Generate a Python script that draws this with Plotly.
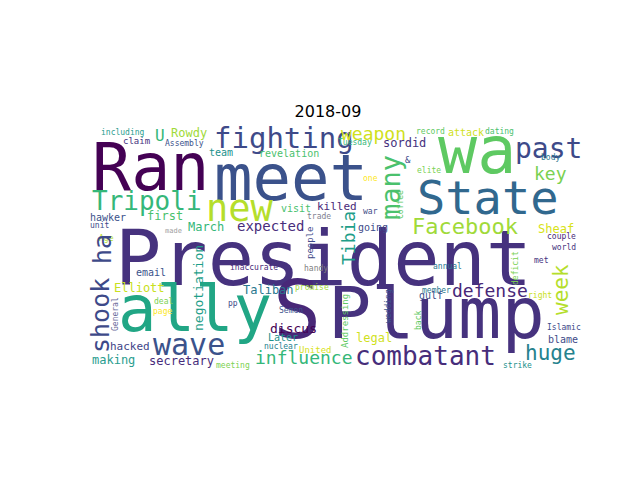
import plotly.graph_objects as go

# word cloud for 2018-09: word, centre x/y (image px), font size, colour, angle
words = ["President", "Ran", "meet", "wa", "past", "fighting", "State", "U", "Rowdy", "including",
         "claim", "Assembly", "team", "revelation", "weapon", "record", "attack", "dating", "Tuesday", "sordid",
         "body", "&", "elite", "one", "many", "key", "Tripoli", "new", "visit", "killed",
         "Tibia", "going", "war", "Coffee", "trade", "hawker", "first", "unit", "March", "expected",
         "made", "Age", "Facebook", "Sheaf", "couple", "world", "met", "deficit", "annual", "disgraced",
         "week", "reaction", "defense", "member", "gulf", "right", "back", "Islamic", "blame", "huge",
         "strike", "combatant", "Plump", "S", "ally", "wave", "influence", "shook", "ha", "email",
         "inaccurate", "handy", "people", "Elliott", "negotiation", "Taliban", "promise", "deal", "page", "General",
         "pp", "Semen", "Addressing", "wedding", "legal", "discus", "Later", "hacked", "nuclear", "United",
         "making", "secretary", "meeting"]
xs = [315, 142, 283, 469, 540, 276, 479, 152, 181, 115,
      128, 176, 213, 281, 365, 422, 458, 491, 347, 396,
      542, 400, 421, 362, 382, 542, 139, 232, 288, 329,
      340, 365, 362, 392, 311, 100, 157, 91, 198, 262,
      165, 98, 457, 548, 553, 556, 533, 507, 439, 563,
      553, 567, 482, 428, 423, 532, 410, 556, 555, 542,
      509, 417, 428, 289, 187, 181, 296, 92, 94, 143,
      246, 308, 302, 131, 190, 260, 304, 155, 154, 107,
      225, 283, 337, 380, 366, 285, 275, 122, 273, 307,
      105, 173, 225]
ys = [250, 159, 170, 142, 140, 130, 189, 127, 125, 124,
      133, 135, 144, 145, 125, 123, 124, 123, 134, 135,
      149, 152, 162, 170, 180, 165, 193, 200, 200, 198,
      230, 219, 203, 197, 208, 209, 208, 217, 219, 218,
      223, 230, 218, 221, 228, 239, 252, 260, 258, 180,
      282, 292, 282, 282, 287, 287, 313, 319, 331, 345,
      357, 348, 305, 302, 301, 336, 349, 308, 241, 264,
      259, 260, 235, 280, 280, 282, 279, 293, 303, 306,
      295, 302, 313, 298, 330, 320, 329, 338, 338, 342,
      352, 353, 357]
sizes = [77, 65, 64, 65, 28, 29, 47, 16, 12, 8,
         9, 8, 10, 10, 18, 8, 10, 8, 8, 12,
         8, 9, 8, 8, 27, 18, 26, 37, 10, 11,
         18, 10, 8, 8, 8, 10, 12, 8, 12, 14,
         7, 8, 22, 12, 8, 8, 8, 8, 8, 11,
         21, 8, 18, 8, 10, 8, 8, 8, 10, 21,
         8, 26, 72, 80, 64, 30, 18, 25, 25, 10,
         8, 8, 9, 12, 13, 12, 8, 8, 8, 8,
         8, 8, 9, 8, 12, 13, 10, 11, 8, 9,
         12, 12, 8]
colors = ["#46327e", "#440154", "#3b528b", "#5ec962", "#3e4a89", "#3e4a89", "#31688e", "#35b779", "#a0da39", "#2a9d8f",
          "#46327e", "#3b528b", "#21918c", "#4ac16d", "#d0e11c", "#5ec962", "#d0e11c", "#4ac16d", "#35b779", "#46327e",
          "#2a788e", "#3e4a89", "#7ad151", "#fde725", "#4ac16d", "#7ad151", "#35b779", "#b5de2b", "#4ac16d", "#482878",
          "#1f9e89", "#3e4a89", "#3e4a89", "#5ec962", "#808090", "#3b528b", "#4ac16d", "#3e4a89", "#35b779", "#472d7b",
          "#a0a0a0", "#b5de2b", "#a0da39", "#d8e219", "#482878", "#46327e", "#46327e", "#7ad151", "#2a788e", "#6a3d9a",
          "#b5de2b", "#3b528b", "#482878", "#2a788e", "#3b528b", "#c8e020", "#5ec962", "#3e4a89", "#3e4a89", "#26828e",
          "#21918c", "#472d7b", "#46327e", "#482878", "#21a685", "#3b528b", "#35b779", "#3e4a89", "#3e4a89", "#3b528b",
          "#482878", "#808080", "#3e4a89", "#c8e020", "#1f9e89", "#2a788e", "#a0da39", "#7ad151", "#fde725", "#6a6a9a",
          "#3e4a89", "#3b528b", "#5ec962", "#3b528b", "#d0e11c", "#440154", "#21918c", "#414487", "#26828e", "#d8e219",
          "#2a9d8f", "#472d7b", "#7ad151"]
angles = [0] * len(words)
for w in ["many", "Tibia", "Coffee", "deficit", "disgraced", "week", "reaction", "back",
          "shook", "ha", "people", "negotiation", "General", "Addressing", "wedding"]:
    angles[words.index(w)] = -90

fig = go.Figure()
fig.add_trace(go.Scatter(x=[80, 560], y=[117, 360], mode="markers", marker=dict(opacity=0), hoverinfo="skip"))
for w, x, y, s, c, a in zip(words, xs, ys, sizes, colors, angles):
    fig.add_annotation(x=x, y=y, text=w, showarrow=False, textangle=a,
                       font=dict(family="DejaVu Sans Mono", size=s, color=c))

fig.update_layout(
    width=640, height=480, showlegend=False,
    paper_bgcolor="white", plot_bgcolor="white",
    margin=dict(l=80, r=80, t=117, b=120),
    title=dict(text="2018-09", x=0.5, y=0.785, xanchor="center", yanchor="middle",
               font=dict(family="DejaVu Sans", size=16, color="black")),
    xaxis=dict(range=[80, 560], visible=False, fixedrange=True),
    yaxis=dict(range=[360, 117], visible=False, fixedrange=True),
)
fig.write_html("out.html")
